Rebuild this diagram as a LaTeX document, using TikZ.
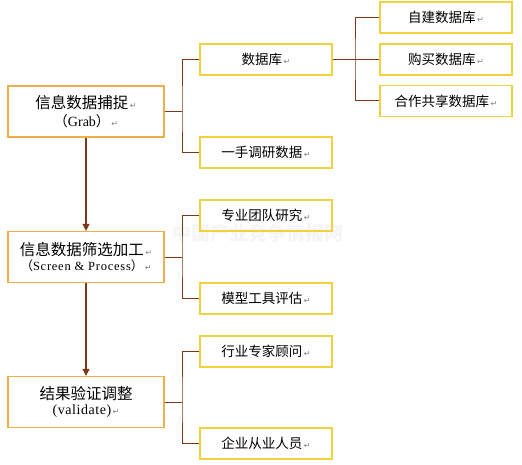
\documentclass[tikz,border=0pt]{standalone}
\usepackage{fontspec}
\setmainfont{Liberation Serif}
\newfontfamily\cjk{Noto Sans CJK SC}
\newfontfamily\symfont{DejaVu Sans}
\usetikzlibrary{arrows.meta}

\definecolor{linebrown}{RGB}{125,55,25}
\definecolor{bigedge}{RGB}{240,175,70}
\definecolor{smalledge}{RGB}{240,210,60}

\newcommand{\ret}{{\symfont\fontsize{8}{8}\selectfont\color{gray}\,↵}}
\newcommand{\lpar}{{\cjk （}}
\newcommand{\rpar}{{\cjk ）}}

\tikzset{
  stagebox/.style={draw=bigedge,line width=1.2pt,minimum width=156pt,minimum height=51pt,
    align=center,inner sep=0pt},
  leafbox/.style={draw=smalledge,line width=1.2pt,minimum width=132pt,minimum height=31pt,
    inner sep=0pt,font=\cjk\fontsize{13.5}{15}\selectfont},
  conn/.style={draw=linebrown,line width=1pt},
  flow/.style={draw=linebrown,line width=1.2pt,-{Triangle[length=7pt,width=7pt]}}
}

\begin{document}
\begin{tikzpicture}[x=1pt,y=-1pt]
  \useasboundingbox (0,0) rectangle (522,465);

  % watermark
  \node[text=gray!8,font=\cjk\bfseries\fontsize{19}{19}\selectfont] (mark) at (258,233) {中国产业竞争情报网};

  % stages
  \node[stagebox] (grab) at (86,111.5)
    {{\cjk\fontsize{15.5}{18}\selectfont 信息数据捕捉}\ret\\[3pt]{\fontsize{14}{15}\selectfont \lpar Grab\rpar}\ret};
  \node[stagebox] (screen) at (86,257)
    {{\cjk\fontsize{15.5}{18}\selectfont 信息数据筛选加工}\ret\\[3pt]{\fontsize{12.5}{14}\selectfont\addfontfeatures{LetterSpace=6} \lpar Screen \& Process\rpar}\ret};
  \node[stagebox] (valid) at (86,402)
    {{\cjk\fontsize{15.5}{18}\selectfont 结果验证调整}\\[3pt]{\fontsize{14}{15}\selectfont\addfontfeatures{LetterSpace=4} (validate)}\ret};

  % leaves of the first stage
  \node[leafbox] (db) at (266,59.5) {数据库\ret};
  \node[leafbox] (survey) at (266,152.5) {一手调研数据\ret};
  \node[leafbox] (ownDb) at (446,17.5) {自建数据库\ret};
  \node[leafbox] (buyDb) at (446,59.5) {购买数据库\ret};
  \node[leafbox] (shareDb) at (446,101) {合作共享数据库\ret};

  % leaves of the second stage
  \node[leafbox] (team) at (266,215.5) {专业团队研究\ret};
  \node[leafbox] (model) at (266,298.5) {模型工具评估\ret};

  % leaves of the third stage
  \node[leafbox] (expert) at (266,351.5) {行业专家顾问\ret};
  \node[leafbox] (staff) at (266,443.5) {企业从业人员\ret};

  % junctions
  \coordinate (j1) at (182,111.5);
  \coordinate (j2) at (182,257);
  \coordinate (j3) at (182,402);
  \coordinate (j4) at (355,59.5);

  \draw[conn] (grab.east) -- (j1);
  \draw[conn] (db.west) -| (j1) |- (survey.west);
  \draw[conn] (screen.east) -- (j2);
  \draw[conn] (team.west) -| (j2) |- (model.west);
  \draw[conn] (valid.east) -- (j3);
  \draw[conn] (expert.west) -| (j3) |- (staff.west);
  \draw[conn] (db.east) -- (buyDb.west);
  \draw[conn] (ownDb.west) -| (j4) |- (shareDb.west);

  % flow between stages
  \draw[flow] (grab.south) -- (screen.north);
  \draw[flow] (screen.south) -- (valid.north);
\end{tikzpicture}
\end{document}
